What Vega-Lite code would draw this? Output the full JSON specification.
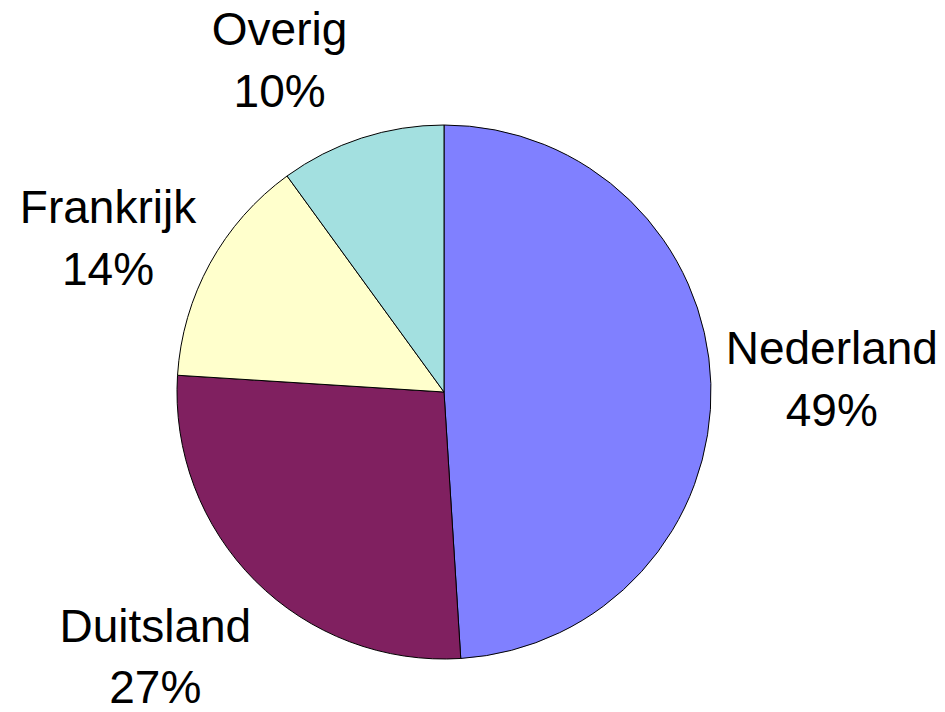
{
  "$schema": "https://vega.github.io/schema/vega-lite/v6.json",
  "width": 888,
  "height": 640,
  "autosize": "none",
  "padding": {"left": 0, "top": 72, "right": 57, "bottom": 0},
  "background": "white",
  "data": {
    "values": [
      {"country": "Nederland", "share": 49},
      {"country": "Duitsland", "share": 27},
      {"country": "Frankrijk", "share": 14},
      {"country": "Overig", "share": 10}
    ]
  },
  "transform": [
    {"stack": "share", "groupby": [], "sort": [{"field": "share", "order": "descending"}], "as": ["t0", "t1"]},
    {"calculate": "(datum.t0 + datum.t1) / 2", "as": "mid"},
    {"calculate": "datum.country + '\\n' + datum.share + '%'", "as": "label"}
  ],
  "layer": [
    {
      "mark": {"type": "arc", "outerRadius": 267, "stroke": "black", "strokeWidth": 1},
      "encoding": {
        "theta": {"field": "t0", "type": "quantitative", "stack": null, "scale": {"domain": [0, 100]}},
        "theta2": {"field": "t1"},
        "color": {
          "field": "country",
          "type": "nominal",
          "scale": {
            "domain": ["Nederland", "Duitsland", "Frankrijk", "Overig"],
            "range": ["#8080FF", "#802060", "#FFFFCC", "#A3E0E0"]
          },
          "legend": null
        }
      }
    },
    {
      "transform": [{"filter": "datum.country == 'Nederland'"}],
      "mark": {"type": "text", "radius": 380, "dx": 8, "dy": -30, "font": "Liberation Sans", "fontSize": 46, "lineHeight": 62, "lineBreak": "\n", "align": "center", "baseline": "middle", "color": "black"},
      "encoding": {
        "theta": {"field": "mid", "type": "quantitative", "stack": null, "scale": {"domain": [0, 100]}},
        "text": {"field": "label", "type": "nominal"}
      }
    },
    {
      "transform": [{"filter": "datum.country == 'Duitsland'"}],
      "mark": {"type": "text", "radius": 380, "dx": -20, "dy": -33, "font": "Liberation Sans", "fontSize": 46, "lineHeight": 61, "lineBreak": "\n", "align": "center", "baseline": "middle", "color": "black"},
      "encoding": {
        "theta": {"field": "mid", "type": "quantitative", "stack": null, "scale": {"domain": [0, 100]}},
        "text": {"field": "label", "type": "nominal"}
      }
    },
    {
      "transform": [{"filter": "datum.country == 'Frankrijk'"}],
      "mark": {"type": "text", "radius": 380, "dx": -3, "dy": 0, "font": "Liberation Sans", "fontSize": 46, "lineHeight": 62, "lineBreak": "\n", "align": "center", "baseline": "middle", "color": "black"},
      "encoding": {
        "theta": {"field": "mid", "type": "quantitative", "stack": null, "scale": {"domain": [0, 100]}},
        "text": {"field": "label", "type": "nominal"}
      }
    },
    {
      "transform": [{"filter": "datum.country == 'Overig'"}],
      "mark": {"type": "text", "radius": 380, "dx": -47, "dy": 0, "font": "Liberation Sans", "fontSize": 46, "lineHeight": 62, "lineBreak": "\n", "align": "center", "baseline": "middle", "color": "black"},
      "encoding": {
        "theta": {"field": "mid", "type": "quantitative", "stack": null, "scale": {"domain": [0, 100]}},
        "text": {"field": "label", "type": "nominal"}
      }
    }
  ],
  "config": {"view": {"stroke": null}}
}
